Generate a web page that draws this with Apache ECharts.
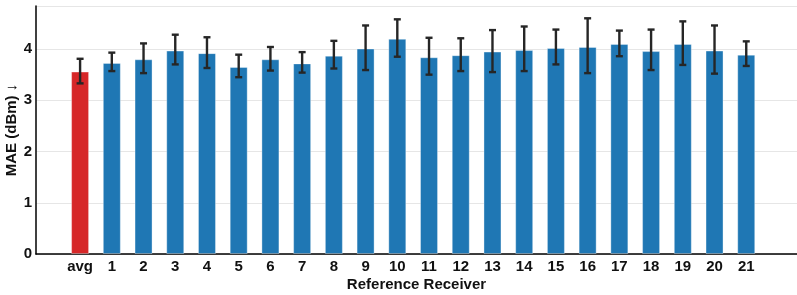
<!DOCTYPE html>
<html>
<head>
<meta charset="utf-8">
<script src="https://cdn.jsdelivr.net/npm/echarts@6/dist/echarts.min.js"></script>
<style>
  html, body { margin: 0; padding: 0; background: #fff; }
  #chart { width: 797px; height: 295px; }
</style>
</head>
<body>
<div id="chart"></div>
<script>
// receivers, first one is the average over all of them
const labels = ['avg', '1', '2', '3', '4', '5', '6', '7', '8', '9', '10',
  '11', '12', '13', '14', '15', '16', '17', '18', '19', '20', '21']
const mae = [3.56, 3.73, 3.80, 3.97, 3.92, 3.65, 3.80, 3.72, 3.87, 4.01, 4.20,
  3.84, 3.88, 3.95, 3.98, 4.02, 4.04, 4.10, 3.96, 4.10, 3.97, 3.89]
const errLow = [3.33, 3.57, 3.53, 3.70, 3.63, 3.45, 3.58, 3.54, 3.62, 3.59, 3.85,
  3.50, 3.57, 3.55, 3.57, 3.70, 3.53, 3.86, 3.59, 3.69, 3.52, 3.67]
const errHigh = [3.81, 3.93, 4.11, 4.28, 4.23, 3.89, 4.04, 3.94, 4.16, 4.46, 4.58,
  4.22, 4.21, 4.37, 4.44, 4.38, 4.60, 4.36, 4.38, 4.54, 4.46, 4.15]
const yTicks = [0, 1, 2, 3, 4]

const font = 'Liberation Sans, Arial, sans-serif'
const chart = echarts.init(document.getElementById('chart'))

const barData = mae.map((v, i) => ({
  value: [i, v],
  itemStyle: { color: i === 0 ? '#d62728' : '#1f77b4' }
}))
const errData = mae.map((v, i) => [i, errLow[i], errHigh[i]])

chart.setOption({
  animation: false,
  grid: { left: 36, right: 0, top: 6, bottom: 41, outerBoundsMode: 'none', containLabel: false },
  xAxis: {
    type: 'value',
    min: -1.39,
    max: 22.6,
    name: 'Reference Receiver',
    nameLocation: 'middle',
    nameGap: 23,
    nameMoveOverlap: false,
    nameTextStyle: { fontFamily: font, fontWeight: 'bold', fontSize: 15, color: '#111' },
    axisLine: { show: true, onZero: false, lineStyle: { color: '#000', width: 1.5 } },
    axisTick: { show: false },
    splitLine: { show: false },
    axisLabel: {
      customValues: labels.map((l, i) => i),
      formatter: v => labels[v],
      fontFamily: font, fontWeight: 'bold', fontSize: 15, color: '#111', margin: 5
    }
  },
  yAxis: {
    type: 'value',
    min: 0,
    max: 4.84,
    interval: 1,
    name: 'MAE (dBm) \u2193',
    nameLocation: 'middle',
    nameGap: 17,
    nameMoveOverlap: false,
    nameTextStyle: { fontFamily: font, fontWeight: 'bold', fontSize: 15, color: '#111' },
    axisLine: { show: true, onZero: false, lineStyle: { color: '#000', width: 1.5 } },
    axisTick: { show: false },
    splitLine: { lineStyle: { color: '#e6e6e6', width: 1.2 } },
    axisLabel: {
      customValues: yTicks,
      fontFamily: font, fontWeight: 'bold', fontSize: 15, color: '#111', margin: 4
    }
  },
  series: [
    {
      type: 'bar',
      data: barData,
      barWidth: 18,
      itemStyle: { borderColor: 'rgba(255,255,255,0.35)', borderWidth: 1 }
    },
    {
      type: 'custom',
      data: errData,
      z: 10,
      renderItem: (params, api) => {
        const lo = api.coord([api.value(0), api.value(1)])
        const hi = api.coord([api.value(0), api.value(2)])
        const x = lo[0], cap = 3.5
        const st = { stroke: '#262626', lineWidth: 2.4 }
        return {
          type: 'group',
          children: [
            { type: 'line', shape: { x1: x, y1: lo[1], x2: x, y2: hi[1] }, style: st },
            { type: 'line', shape: { x1: x - cap, y1: lo[1], x2: x + cap, y2: lo[1] }, style: st },
            { type: 'line', shape: { x1: x - cap, y1: hi[1], x2: x + cap, y2: hi[1] }, style: st }
          ]
        }
      }
    }
  ]
})
</script>
</body>
</html>
